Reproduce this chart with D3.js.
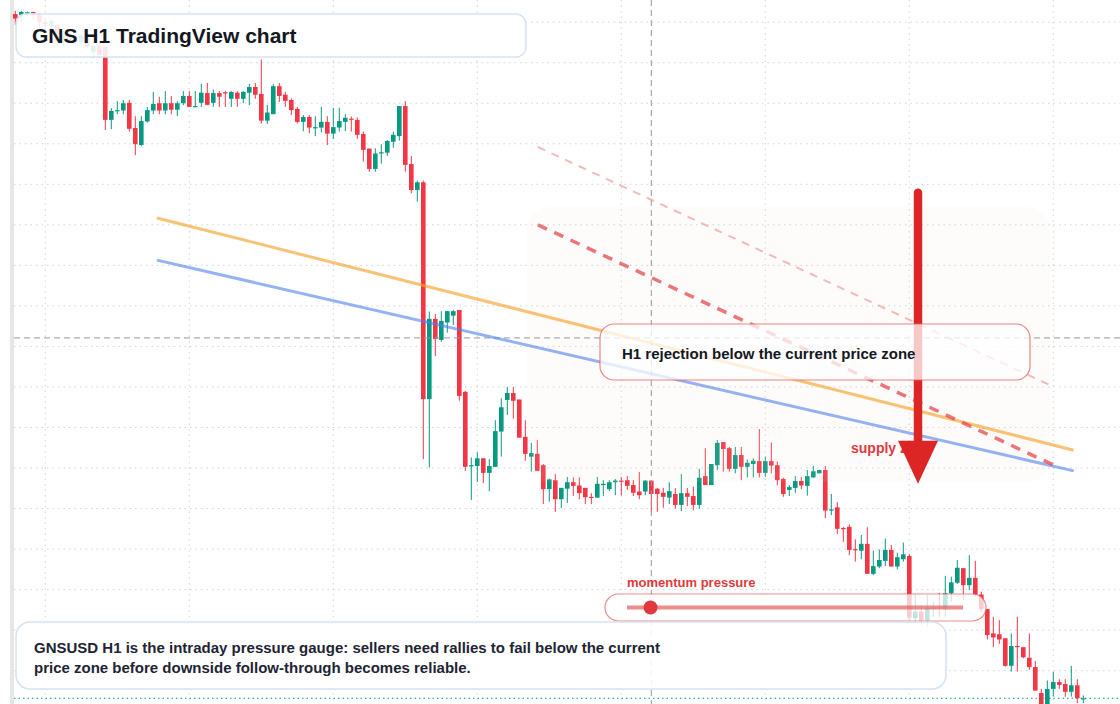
<!DOCTYPE html>
<html>
<head>
<meta charset="utf-8">
<script src="https://cdn.jsdelivr.net/npm/d3@7"></script>
<style>
  body { margin: 0; background: #ffffff; }
  svg { display: block; font-family: "Liberation Sans", Arial, sans-serif; }
</style>
</head>
<body>
<div id="chart-area"></div>
<script>
// GNS H1 candles (one per hour)
var opens = [0.4120,0.4118,0.4122,0.4125,0.4120,0.4100,0.4090,0.4093,0.4051,0.4066,
  0.4058,0.4051,0.4061,0.4026,0.4041,0.4039,0.3859,0.3882,0.3882,0.3901,
  0.3839,0.3797,0.3855,0.3882,0.3900,0.3882,0.3900,0.3884,0.3900,0.3918,
  0.3892,0.3901,0.3925,0.3901,0.3925,0.3927,0.3911,0.3926,0.3911,0.3926,
  0.3940,0.3923,0.3857,0.3873,0.3942,0.3921,0.3908,0.3886,0.3854,0.3866,
  0.3840,0.3840,0.3854,0.3825,0.3840,0.3854,0.3862,0.3859,0.3824,0.3788,
  0.3738,0.3778,0.3778,0.3805,0.3819,0.3893,0.3750,0.3686,0.3705,0.3170,
  0.3368,0.3316,0.3359,0.3376,0.3390,0.3188,0.3006,0.3005,0.3024,0.2988,
  0.3003,0.3090,0.3168,0.3185,0.3169,0.3077,0.3028,0.3035,0.3007,0.2948,
  0.2970,0.2923,0.2949,0.2965,0.2957,0.2951,0.2929,0.2927,0.2960,0.2948,
  0.2965,0.2969,0.2970,0.2958,0.2942,0.2942,0.2969,0.2949,0.2939,0.2927,
  0.2936,0.2909,0.2938,0.2931,0.2909,0.2980,0.2958,0.3007,0.3064,0.3049,
  0.2998,0.3032,0.3003,0.3010,0.3017,0.2988,0.3017,0.3007,0.2973,0.2946,
  0.2951,0.2968,0.2956,0.2977,0.2987,0.2995,0.2897,0.2903,0.2852,0.2855,
  0.2800,0.2796,0.2813,0.2739,0.2757,0.2771,0.2798,0.2757,0.2775,0.2783,
  0.2629,0.2646,0.2623,0.2655,0.2657,0.2651,0.2691,0.2717,0.2753,0.2711,
  0.2729,0.2688,0.2652,0.2592,0.2590,0.2580,0.2512,0.2561,0.2558,0.2532,
  0.2509,0.2445,0.2413,0.2455,0.2472,0.2467,0.2448,0.2464,0.2431];
var highs = [0.4128,0.4128,0.4126,0.4126,0.4122,0.4110,0.4108,0.4095,0.4081,0.4073,
  0.4066,0.4071,0.4066,0.4049,0.4049,0.4041,0.3888,0.3905,0.3908,0.3908,
  0.3868,0.3868,0.3891,0.3928,0.3916,0.3930,0.3918,0.3905,0.3930,0.3930,
  0.3930,0.3948,0.3950,0.3934,0.3930,0.3930,0.3930,0.3930,0.3930,0.3948,
  0.3950,0.4008,0.3896,0.3947,0.3950,0.3928,0.3912,0.3891,0.3871,0.3871,
  0.3868,0.3891,0.3868,0.3889,0.3889,0.3873,0.3867,0.3865,0.3830,0.3788,
  0.3789,0.3799,0.3809,0.3830,0.3893,0.3905,0.3770,0.3709,0.3709,0.3386,
  0.3380,0.3387,0.3387,0.3390,0.3390,0.3190,0.3026,0.3039,0.3024,0.3022,
  0.3118,0.3172,0.3200,0.3200,0.3169,0.3118,0.3062,0.3069,0.3010,0.2974,
  0.2985,0.2951,0.2978,0.2977,0.2977,0.2951,0.2938,0.2978,0.2970,0.2970,
  0.2973,0.2978,0.2980,0.2970,0.2990,0.2970,0.2969,0.2951,0.2951,0.2965,
  0.2951,0.2985,0.2951,0.2954,0.2998,0.3049,0.3010,0.3069,0.3064,0.3052,
  0.3052,0.3052,0.3021,0.3024,0.3096,0.3028,0.3063,0.3016,0.2976,0.2958,
  0.2980,0.2978,0.2995,0.3005,0.2996,0.3005,0.2936,0.2916,0.2855,0.2861,
  0.2824,0.2835,0.2854,0.2796,0.2799,0.2826,0.2810,0.2791,0.2816,0.2788,
  0.2689,0.2662,0.2687,0.2670,0.2692,0.2734,0.2732,0.2773,0.2753,0.2785,
  0.2771,0.2695,0.2652,0.2633,0.2625,0.2580,0.2592,0.2633,0.2558,0.2592,
  0.2524,0.2455,0.2476,0.2497,0.2479,0.2479,0.2512,0.2479,0.2439];
var lows = [0.4093,0.4100,0.4115,0.4105,0.4088,0.4081,0.4083,0.4044,0.4041,0.4046,
  0.4041,0.4046,0.4034,0.4012,0.4012,0.3834,0.3836,0.3873,0.3873,0.3830,
  0.3772,0.3794,0.3852,0.3873,0.3873,0.3873,0.3873,0.3868,0.3895,0.3891,
  0.3891,0.3891,0.3895,0.3891,0.3891,0.3891,0.3891,0.3891,0.3900,0.3895,
  0.3911,0.3850,0.3849,0.3873,0.3903,0.3891,0.3871,0.3850,0.3831,0.3826,
  0.3819,0.3828,0.3797,0.3812,0.3830,0.3831,0.3830,0.3812,0.3756,0.3731,
  0.3731,0.3751,0.3770,0.3790,0.3808,0.3731,0.3678,0.3657,0.3022,0.3001,
  0.3276,0.3312,0.3334,0.3353,0.3166,0.2993,0.2921,0.2966,0.2963,0.2943,
  0.3003,0.3028,0.3131,0.3122,0.3075,0.3018,0.2991,0.2993,0.2911,0.2917,
  0.2892,0.2901,0.2914,0.2931,0.2923,0.2911,0.2911,0.2927,0.2931,0.2943,
  0.2933,0.2933,0.2946,0.2931,0.2923,0.2933,0.2892,0.2892,0.2902,0.2911,
  0.2900,0.2894,0.2906,0.2896,0.2899,0.2958,0.2958,0.2995,0.2991,0.2991,
  0.2987,0.2970,0.2977,0.2977,0.2977,0.2978,0.2987,0.2957,0.2929,0.2931,
  0.2939,0.2948,0.2932,0.2975,0.2987,0.2876,0.2884,0.2837,0.2818,0.2785,
  0.2769,0.2775,0.2739,0.2736,0.2753,0.2758,0.2757,0.2750,0.2769,0.2623,
  0.2617,0.2613,0.2608,0.2633,0.2633,0.2633,0.2670,0.2714,0.2674,0.2699,
  0.2683,0.2646,0.2577,0.2558,0.2566,0.2510,0.2498,0.2498,0.2531,0.2502,
  0.2451,0.2391,0.2399,0.2436,0.2455,0.2436,0.2436,0.2420,0.2420];
var closes = [0.4109,0.4125,0.4124,0.4122,0.4100,0.4095,0.4103,0.4051,0.4068,0.4056,
  0.4051,0.4066,0.4039,0.4041,0.4019,0.3859,0.3881,0.3883,0.3900,0.3837,
  0.3799,0.3856,0.3883,0.3898,0.3882,0.3900,0.3884,0.3900,0.3918,0.3891,
  0.3893,0.3926,0.3896,0.3925,0.3916,0.3925,0.3928,0.3911,0.3928,0.3940,
  0.3921,0.3857,0.3877,0.3942,0.3918,0.3906,0.3883,0.3854,0.3866,0.3840,
  0.3841,0.3854,0.3825,0.3841,0.3856,0.3864,0.3860,0.3822,0.3785,0.3738,
  0.3776,0.3779,0.3807,0.3822,0.3893,0.3748,0.3686,0.3705,0.3170,0.3368,
  0.3318,0.3363,0.3387,0.3387,0.3178,0.3003,0.3007,0.3024,0.2988,0.3005,
  0.3091,0.3150,0.3185,0.3166,0.3075,0.3035,0.3037,0.2993,0.2948,0.2972,
  0.2923,0.2951,0.2965,0.2956,0.2938,0.2928,0.2928,0.2961,0.2961,0.2965,
  0.2969,0.2968,0.2956,0.2939,0.2933,0.2969,0.2936,0.2936,0.2929,0.2943,
  0.2909,0.2938,0.2929,0.2909,0.2976,0.2958,0.3010,0.3062,0.3047,0.2998,
  0.3032,0.3003,0.3013,0.3018,0.2988,0.3017,0.3006,0.2970,0.2936,0.2953,
  0.2968,0.2957,0.2980,0.2992,0.2995,0.2895,0.2898,0.2850,0.2851,0.2798,
  0.2799,0.2813,0.2739,0.2758,0.2773,0.2798,0.2757,0.2780,0.2787,0.2631,
  0.2646,0.2623,0.2655,0.2656,0.2655,0.2691,0.2718,0.2754,0.2711,0.2729,
  0.2687,0.2652,0.2588,0.2582,0.2577,0.2512,0.2561,0.2560,0.2533,0.2509,
  0.2451,0.2399,0.2455,0.2472,0.2465,0.2448,0.2464,0.2432,0.2432];

// price grid levels and day separators (candle index of each new session)
var priceLevels = [0.24,0.25,0.26,0.27,0.28,0.29,0.30,0.31,0.32,0.33,0.34,0.35,0.36,0.37,0.38,0.39,0.40,0.41,0.42];
var sessionStarts = [5, 29, 53, 77, 101, 125, 149, 173];

// drawn objects, in [candle index, price]
var orangeLine = [[23.6, 0.3617], [176.4, 0.3044]];
var blueLine = [[23.6, 0.3513], [176.4, 0.2993]];
var channelUpper = [[87.1, 0.3792], [173.1, 0.3200]];
var channelLower = [[87.1, 0.3600], [173.1, 0.3007]];
var supplyZone = { from: 85.3, to: 172.4, top: 0.3644, bottom: 0.2966 };
var arrowAt = { index: 150.45, from: 0.3679, to: 0.2961 };
var crosshair = { index: 106, price: 0.3321 };
var lastPrice = 0.2432;
var momentumPressure = 0.07;

var width = 1120, height = 704;

var candles = opens.map(function(o, i) {
    return { i: i, open: o, high: highs[i], low: lows[i], close: closes[i] };
});

var svg = d3.select("#chart-area")
    .append("svg")
        .attr("width", width)
        .attr("height", height);

var x = d3.scaleLinear()
    .domain([0, candles.length - 1])
    .range([15.3, 1083.3]);

var y = d3.scaleLinear()
    .domain([0.25, 0.40])
    .range([670.7, 62.7]);

// left edge strip
svg.append("rect")
    .attr("x", 10).attr("y", 0)
    .attr("width", 4).attr("height", height)
    .attr("fill", "#e6e6e6");

// Grid
svg.append("g")
    .attr("class", "grid")
    .selectAll("line.h")
    .data(priceLevels)
    .enter().append("line")
        .attr("x1", 14).attr("x2", width)
        .attr("y1", function(d){ return y(d); })
        .attr("y2", function(d){ return y(d); })
        .attr("stroke", "#cfd3d8")
        .attr("stroke-dasharray", "1.5,4");

svg.append("g")
    .selectAll("line")
    .data(sessionStarts)
    .enter().append("line")
        .attr("x1", function(d){ return x(d); })
        .attr("x2", function(d){ return x(d); })
        .attr("y1", 0).attr("y2", height)
        .attr("stroke", "#cfd3d8")
        .attr("stroke-dasharray", "1.5,4");

// Candles
var up = "#089981", down = "#f23645";
var cg = svg.append("g").attr("class", "candles");

cg.selectAll("line")
    .data(candles)
    .enter().append("line")
        .attr("x1", function(d){ return x(d.i); })
        .attr("x2", function(d){ return x(d.i); })
        .attr("y1", function(d){ return y(d.high); })
        .attr("y2", function(d){ return y(d.low); })
        .attr("stroke", function(d){ return d.close >= d.open ? up : down; })
        .attr("stroke-width", 1);

cg.selectAll("rect")
    .data(candles)
    .enter().append("rect")
        .attr("x", function(d){ return x(d.i) - 2.3; })
        .attr("y", function(d){ return y(Math.max(d.open, d.close)); })
        .attr("width", 4.6)
        .attr("height", function(d){ return Math.max(1.2, Math.abs(y(d.open) - y(d.close))); })
        .attr("fill", function(d){ return d.close >= d.open ? up : down; });

// supply zone wash
svg.append("rect")
    .attr("x", x(supplyZone.from))
    .attr("y", y(supplyZone.top))
    .attr("width", x(supplyZone.to) - x(supplyZone.from))
    .attr("height", y(supplyZone.bottom) - y(supplyZone.top))
    .attr("rx", 22)
    .attr("fill", "#f6dccb")
    .attr("opacity", 0.09);

// Crosshair + last price
svg.append("line")
    .attr("x1", 14).attr("x2", width)
    .attr("y1", y(crosshair.price)).attr("y2", y(crosshair.price))
    .attr("stroke", "#9598a1")
    .attr("stroke-dasharray", "6,4");

svg.append("line")
    .attr("x1", x(crosshair.index)).attr("x2", x(crosshair.index))
    .attr("y1", 0).attr("y2", height)
    .attr("stroke", "#9598a1")
    .attr("stroke-dasharray", "6,4");

svg.append("line")
    .attr("x1", 14).attr("x2", width)
    .attr("y1", y(lastPrice)).attr("y2", y(lastPrice))
    .attr("stroke", up)
    .attr("stroke-dasharray", "1.5,3");

// trend lines
var line = d3.line()
    .x(function(d){ return x(d[0]); })
    .y(function(d){ return y(d[1]); });

svg.append("path").datum(orangeLine)
    .attr("d", line)
    .attr("stroke", "#f7a12b").attr("stroke-opacity", 0.65)
    .attr("stroke-width", 3).attr("fill", "none");

svg.append("path").datum(blueLine)
    .attr("d", line)
    .attr("stroke", "#4f7fef").attr("stroke-opacity", 0.6)
    .attr("stroke-width", 3).attr("fill", "none");

svg.append("path").datum(channelUpper)
    .attr("d", line)
    .attr("stroke", "#f08a8a").attr("stroke-opacity", 0.6)
    .attr("stroke-width", 2).attr("stroke-dasharray", "8,7")
    .attr("fill", "none");

svg.append("path").datum(channelLower)
    .attr("d", line)
    .attr("stroke", "#e5484d").attr("stroke-opacity", 0.75)
    .attr("stroke-width", 3.5).attr("stroke-dasharray", "10,8")
    .attr("fill", "none");

// supply zone label (arrow head sits over it)
svg.append("text")
    .attr("x", 851).attr("y", 453)
    .attr("font-size", "14px").attr("font-weight", "bold")
    .attr("fill", "#e03a3e")
    .text("supply zone");

// Arrow
var ax = x(arrowAt.index);
svg.append("line")
    .attr("x1", ax).attr("x2", ax)
    .attr("y1", y(arrowAt.from)).attr("y2", y(arrowAt.to) - 30)
    .attr("stroke", "#dc2626")
    .attr("stroke-width", 8.5)
    .attr("stroke-linecap", "round");

svg.append("path")
    .attr("d", "M" + (ax - 20) + "," + (y(arrowAt.to) - 43) +
               "L" + (ax + 20) + "," + (y(arrowAt.to) - 43) +
               "L" + ax + "," + y(arrowAt.to) + "Z")
    .attr("fill", "#dc2626");

// Callout
svg.append("rect")
    .attr("x", 600).attr("y", 324)
    .attr("width", 430).attr("height", 56)
    .attr("rx", 14)
    .attr("fill", "#ffffff").attr("fill-opacity", 0.75)
    .attr("stroke", "#e35d5d").attr("stroke-opacity", 0.75)
    .attr("stroke-width", 1.2);

svg.append("text")
    .attr("x", 622).attr("y", 359)
    .attr("font-size", "15px").attr("font-weight", "bold")
    .attr("fill", "#131722")
    .text("H1 rejection below the current price zone");

// Momentum pressure gauge
var gauge = d3.scaleLinear().domain([0, 1]).range([627, 963]);

svg.append("text")
    .attr("x", 627).attr("y", 587)
    .attr("font-size", "13px").attr("font-weight", "bold")
    .attr("fill", "#e03a3e")
    .text("momentum pressure");

svg.append("rect")
    .attr("x", 605).attr("y", 594)
    .attr("width", 381).attr("height", 27)
    .attr("rx", 13.5)
    .attr("fill", "#ffffff").attr("fill-opacity", 0.75)
    .attr("stroke", "#e35d5d").attr("stroke-opacity", 0.7)
    .attr("stroke-width", 1.2);

svg.append("line")
    .attr("x1", gauge(0)).attr("x2", gauge(1))
    .attr("y1", 607.5).attr("y2", 607.5)
    .attr("stroke", "#e35d5d").attr("stroke-opacity", 0.7)
    .attr("stroke-width", 4);

svg.append("circle")
    .attr("cx", gauge(momentumPressure)).attr("cy", 607.5)
    .attr("r", 7)
    .attr("fill", "#e03a3e");

// Title box
svg.append("rect")
    .attr("x", 16).attr("y", 14)
    .attr("width", 510).attr("height", 43)
    .attr("rx", 10)
    .attr("fill", "#ffffff").attr("fill-opacity", 0.88)
    .attr("stroke", "#d6e2f5").attr("stroke-width", 1.5);

svg.append("text")
    .attr("x", 32).attr("y", 43)
    .attr("font-size", "21px").attr("font-weight", "bold")
    .attr("fill", "#131722")
    .text("GNS H1 TradingView chart");

// Note box
svg.append("rect")
    .attr("x", 16).attr("y", 622)
    .attr("width", 930).attr("height", 67)
    .attr("rx", 14)
    .attr("fill", "#ffffff").attr("fill-opacity", 0.88)
    .attr("stroke", "#d6e2f5").attr("stroke-width", 1.5);

var note = svg.append("text")
    .attr("font-size", "15px").attr("font-weight", "bold")
    .attr("fill", "#1e2433");

note.append("tspan").attr("x", 34).attr("y", 653)
    .text("GNSUSD H1 is the intraday pressure gauge: sellers need rallies to fail below the current");
note.append("tspan").attr("x", 34).attr("y", 673)
    .text("price zone before downside follow-through becomes reliable.");
</script>
</body>
</html>
